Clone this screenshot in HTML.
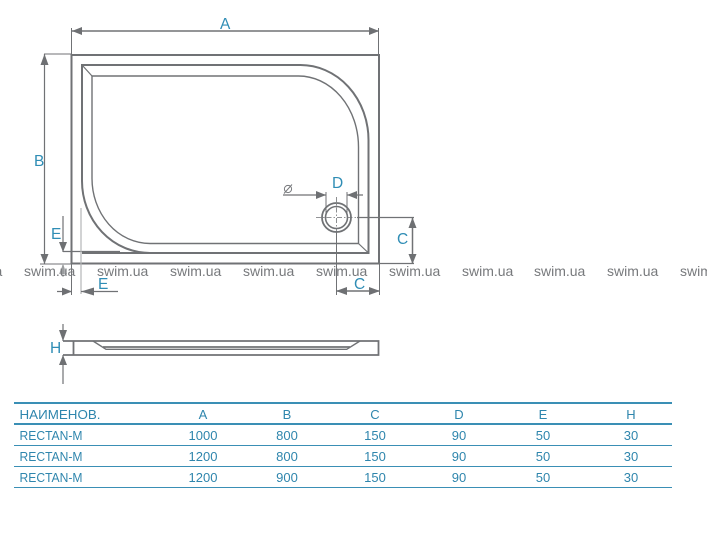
<!DOCTYPE html>
<html>
<head>
<meta charset="utf-8">
<style>
html,body{margin:0;padding:0;background:#fff;width:707px;height:547px;overflow:hidden}
svg{display:block}
.w{font:14px "Liberation Sans",sans-serif;fill:#77797c}
.l{font:15.5px "Liberation Sans",sans-serif;fill:#2f8db5}
.t{font:13px "Liberation Sans",sans-serif;fill:#2f86ad;text-anchor:middle}
.n{font:13px "Liberation Sans",sans-serif;fill:#2f86ad}
</style>
</head>
<body>
<svg width="707" height="547" viewBox="0 0 707 547" xmlns="http://www.w3.org/2000/svg">
<rect width="707" height="547" fill="#fff"/>
<g fill="none" stroke="#707275">
  <!-- plan view -->
  <rect x="71.5" y="55" width="307.5" height="208.5" stroke-width="2"/>
  <path d="M82 253 H150 A68 72 0 0 1 82 181 V65 H300 A68 75 0 0 1 368.5 140 V253 H150" stroke-width="2"/>
  <path d="M92 178 V76 H298 A60 71 0 0 1 358.5 147 V243.5 H150 A58 65 0 0 1 92 178 Z" stroke-width="1.4"/>
  <path d="M82 65 L92 76 M358.5 243.5 L368.5 253" stroke-width="1.2"/>
  <!-- dimension A -->
  <path d="M72 31 H379" stroke-width="1.5"/>
  <path d="M71.5 28 V80 M378.5 28 V55" stroke-width="1"/>
  <!-- dimension B -->
  <path d="M44.5 54 V264" stroke-width="1.2"/>
  <path d="M44 54 H71 M40 264 H71" stroke-width="1"/>
  <!-- dimension E -->
  <path d="M63 216 V252" stroke-width="1.2"/>
  <path d="M63 264 V277" stroke="#b4b5b7" stroke-width="1.2"/>
  <path d="M63 251.5 H120" stroke-width="1.2"/>
  <path d="M81 208 V294" stroke="#b4b5b7" stroke-width="1.2"/>
  <path d="M71.5 263 V295" stroke-width="1"/>
  <path d="M57 291.5 H72 M81 291.5 H118" stroke-width="1.2"/>
  <!-- drain -->
  <circle cx="336.5" cy="217.5" r="14.5" stroke-width="1.8"/>
  <circle cx="336.5" cy="217.5" r="11" stroke-width="1.6"/>
  <path d="M316 217.5 H357 M336.5 197 V238" stroke-width="0.8" stroke-dasharray="5 2 1.5 2"/>
  <path d="M283 195 H326 M347 195 H363" stroke-width="1.2"/>
  <path d="M326 192 V215 M347 192 V215" stroke-width="1"/>
  <!-- C dims -->
  <path d="M357 217.5 H414 M379 263.5 H414" stroke-width="1.3"/>
  <path d="M412.5 218 V264" stroke-width="1.5"/>
  <path d="M336.5 232 V295 M379.5 263 V295" stroke-width="1"/>
  <path d="M336 291 H380" stroke-width="1.4"/>
  <!-- side view -->
  <path d="M63 341 H378.5 V355 H63 M73.5 341 V355" stroke-width="1.8"/>
  <path d="M93 341 L106 349.3 H346.7 L360 341" stroke-width="1.4"/>
  <path d="M103 347 H350" stroke-width="1.8"/>
  <path d="M63 324 V341 M63 355 V384" stroke-width="1.2"/>
</g>
<!-- arrowheads -->
<g fill="#6e7073">
  <path d="M72 31 L82 27 V35 Z"/>
  <path d="M379 31 L369 27 V35 Z"/>
  <path d="M44.5 54 L40.5 65 H48.5 Z"/>
  <path d="M44.5 264 L40.5 254 H48.5 Z"/>
  <path d="M63 252 L59 242 H67 Z"/>
  <path d="M63 264 L59 274 H67 Z" opacity=".55"/>
  <path d="M72 291.5 L62 287.5 V295.5 Z"/>
  <path d="M81 291.5 L94 287.5 V295.5 Z"/>
  <path d="M326 195 L316 191 V199 Z"/>
  <path d="M347 195 L357 191 V199 Z"/>
  <path d="M412.5 217.5 L408.5 228 H416.5 Z"/>
  <path d="M412.5 264 L408.5 254 H416.5 Z"/>
  <path d="M336 291 L347 287 V295 Z"/>
  <path d="M380 291 L369 287 V295 Z"/>
  <path d="M63 341 L59 330 H67 Z"/>
  <path d="M63 355 L59 365 H67 Z"/>
</g>
<!-- watermark -->
<g class="w">
  <text class="w" x="-49" y="276">swim.ua</text>
  <text class="w" x="24" y="276">swim.ua</text>
  <text class="w" x="97" y="276">swim.ua</text>
  <text class="w" x="170" y="276">swim.ua</text>
  <text class="w" x="243" y="276">swim.ua</text>
  <text class="w" x="316" y="276">swim.ua</text>
  <text class="w" x="389" y="276">swim.ua</text>
  <text class="w" x="462" y="276">swim.ua</text>
  <text class="w" x="534" y="276">swim.ua</text>
  <text class="w" x="607" y="276">swim.ua</text>
  <text class="w" x="680" y="276">swim.ua</text>
</g>
<!-- labels -->
<text class="l" x="220" y="29">A</text>
<text class="l" x="34" y="166">B</text>
<text class="l" x="51" y="239">E</text>
<text class="l" x="98" y="289">E</text>
<text class="l" x="332" y="188">D</text>
<text class="l" x="397" y="244">C</text>
<text class="l" x="354" y="289">C</text>
<text class="l" x="50" y="353">H</text>
<g fill="none" stroke="#77797c" stroke-width="1">
  <circle cx="288" cy="189" r="3.6"/>
  <path d="M284 193.5 L292 184.5"/>
</g>
<!-- table -->
<g stroke="#3a8fb5">
  <path d="M14 403 H672" stroke-width="2"/>
  <path d="M14 424 H672" stroke-width="2"/>
  <path d="M14 445.5 H672" stroke-width="1"/>
  <path d="M14 466.5 H672" stroke-width="1"/>
  <path d="M14 487.5 H672" stroke-width="1"/>
</g>
<text class="n" x="19.5" y="419" textLength="81" lengthAdjust="spacingAndGlyphs">НАИМЕНОВ.</text>
<text class="t" x="203" y="419">A</text><text class="t" x="287" y="419">B</text><text class="t" x="375" y="419">C</text><text class="t" x="459" y="419">D</text><text class="t" x="543" y="419">E</text><text class="t" x="631" y="419">H</text>
<text class="n" x="19.5" y="440" textLength="63" lengthAdjust="spacingAndGlyphs">RECTAN-M</text>
<text class="t" x="203" y="440">1000</text><text class="t" x="287" y="440">800</text><text class="t" x="375" y="440">150</text><text class="t" x="459" y="440">90</text><text class="t" x="543" y="440">50</text><text class="t" x="631" y="440">30</text>
<text class="n" x="19.5" y="461" textLength="63" lengthAdjust="spacingAndGlyphs">RECTAN-M</text>
<text class="t" x="203" y="461">1200</text><text class="t" x="287" y="461">800</text><text class="t" x="375" y="461">150</text><text class="t" x="459" y="461">90</text><text class="t" x="543" y="461">50</text><text class="t" x="631" y="461">30</text>
<text class="n" x="19.5" y="482" textLength="63" lengthAdjust="spacingAndGlyphs">RECTAN-M</text>
<text class="t" x="203" y="482">1200</text><text class="t" x="287" y="482">900</text><text class="t" x="375" y="482">150</text><text class="t" x="459" y="482">90</text><text class="t" x="543" y="482">50</text><text class="t" x="631" y="482">30</text>
</svg>
</body>
</html>
